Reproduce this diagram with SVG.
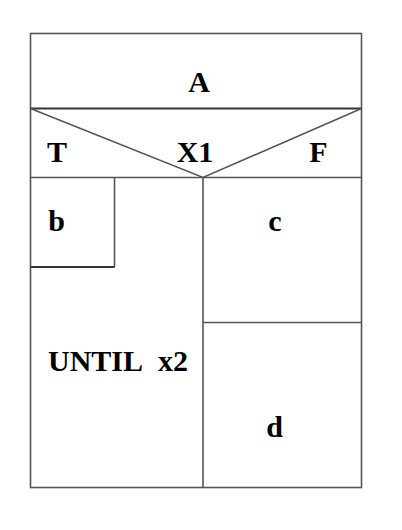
<svg xmlns="http://www.w3.org/2000/svg" width="402" height="530" viewBox="0 0 402 530">
<style>
.ln{stroke:#555;stroke-width:1.6;fill:none}
.dk{stroke:#333;stroke-width:2}
.t{font-family:"Liberation Serif","Times New Roman",serif;font-weight:bold;font-size:30px;fill:#000}
</style>
<rect x="0" y="0" width="402" height="530" fill="#fff"/>
<g id="connectors">
<rect class="ln" x="30.5" y="33.5" width="331" height="454"/>
<line class="ln dk" x1="30.5" y1="108.5" x2="361.5" y2="108.5"/>
<polyline class="ln" points="30.5,108.5 203,177.5 361.5,108.5"/>
<line class="ln" x1="30.5" y1="177.5" x2="361.5" y2="177.5"/>
<line class="ln" x1="203" y1="177.5" x2="203" y2="487.5"/>
<line class="ln" x1="114.5" y1="177.5" x2="114.5" y2="267"/>
<line class="ln dk" x1="30.5" y1="267" x2="114.5" y2="267"/>
<line class="ln" x1="203" y1="322.5" x2="361.5" y2="322.5"/>
</g>
<g id="A"><text class="t" x="199" y="92" text-anchor="middle">A</text></g>
<g id="X1">
<text class="t" x="47" y="162" font-size="26">T</text>
<text class="t" x="195" y="162" text-anchor="middle">X1</text>
<text class="t" x="318.5" y="162" text-anchor="middle">F</text>
</g>
<g id="b"><text class="t" x="56.5" y="230.5" text-anchor="middle">b</text></g>
<g id="c"><text class="t" x="275" y="230.5" text-anchor="middle">c</text></g>
<g id="until"><text class="t" x="48" y="370.5">UNTIL<tspan x="158">x2</tspan></text></g>
<g id="d"><text class="t" x="274.5" y="437" text-anchor="middle">d</text></g>
</svg>
